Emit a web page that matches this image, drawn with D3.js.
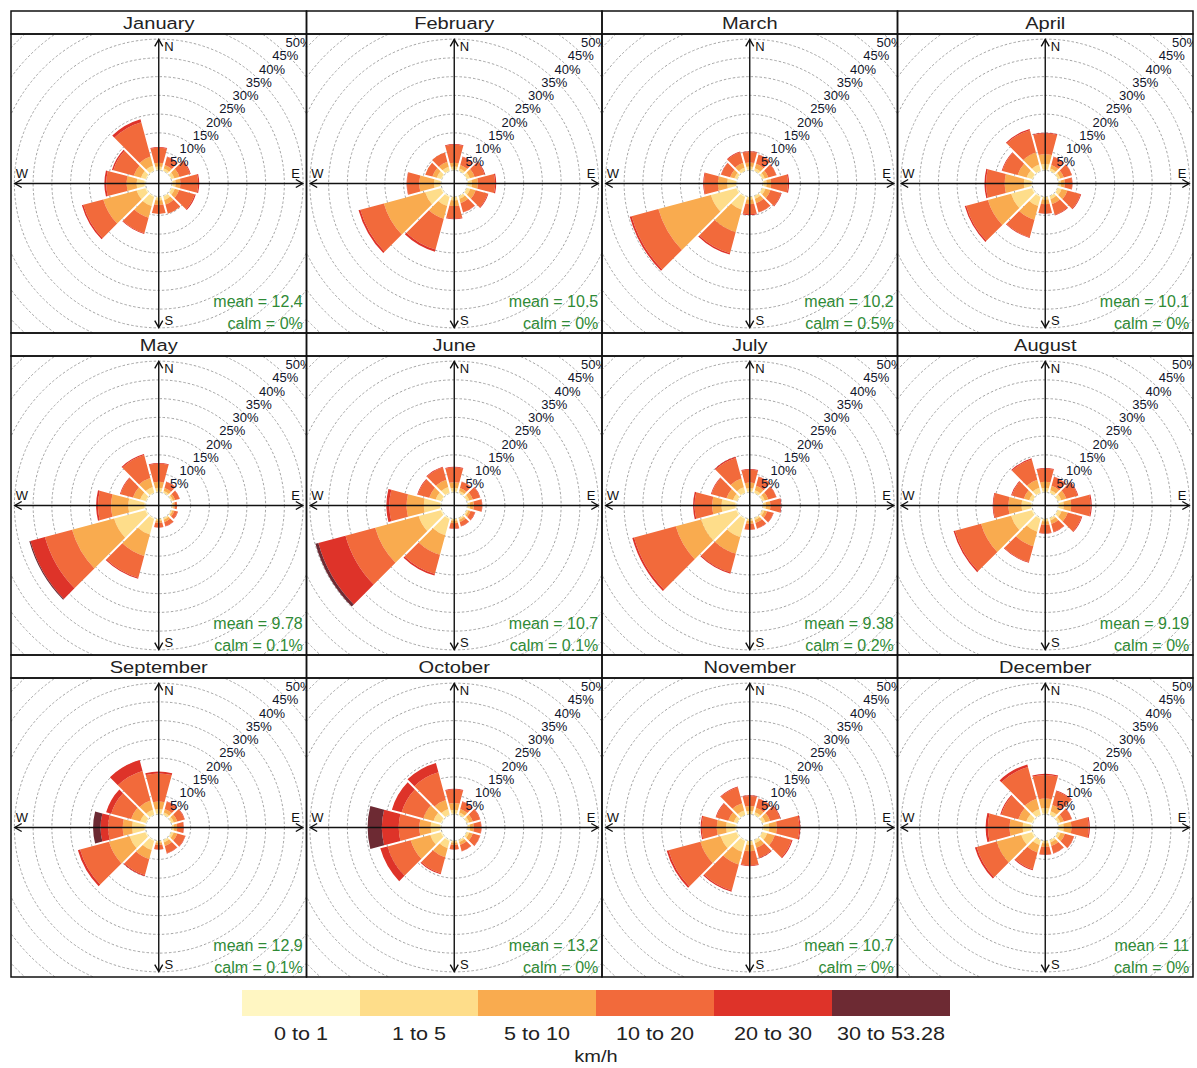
<!DOCTYPE html>
<html>
<head>
<meta charset="utf-8">
<script src="https://cdn.jsdelivr.net/npm/d3@7"></script>
<style>
  body { margin: 0; background: #fff; }
  svg { display: block; }
  text { font-family: "Liberation Sans", Arial, sans-serif; }
</style>
</head>
<body>
<svg id="chart" width="1197" height="1068"></svg>
<script>
// ---- data -------------------------------------------------------------
const monthNames = ["January", "February", "March", "April", "May", "June",
  "July", "August", "September", "October", "November", "December"];
// direction sectors (degrees from north, clockwise)
const directions = [0, 30, 60, 90, 120, 150, 180, 210, 240, 270, 300, 330];
const speedBins = ["0 to 1", "1 to 5", "5 to 10", "10 to 20", "20 to 30", "30 to 53.28"];
const binColours = ["#fff6c2", "#fedd8a", "#f9ab4f", "#f26a3b", "#de3329", "#6d2a33"];
const ringTicks = [0, 5, 10, 15, 20, 25, 30, 35, 40, 45, 50, 55, 60, 65, 70];
const ringLabels = [5, 10, 15, 20, 25, 30, 35, 40, 45, 50];
const meanSpeed = ["12.4", "10.5", "10.2", "10.1", "9.78", "10.7", "9.38", "9.19", "12.9", "13.2", "10.7", "11"];
const calmPercent = ["0%", "0%", "0.5%", "0%", "0.1%", "0.1%", "0.2%", "0%", "0.1%", "0%", "0%", "0%"];

// frequency (%) per direction sector, one column per speed bin
const january = [
  [0.2, 0.8, 1.0, 4.0, 0.2, 0], [0.1, 0.6, 1.0, 2.2, 0.1, 0], [0.1, 0.8, 1.4, 2.9, 0.2, 0],
  [0.2, 0.8, 1.3, 4.7, 0.3, 0], [0.2, 0.8, 1.2, 4.3, 0.3, 0], [0.2, 0.9, 1.3, 2.5, 0, 0],
  [0.2, 0.8, 1.2, 2.4, 0, 0], [0.3, 2.5, 3.2, 4.3, 0.2, 0], [0.3, 2.4, 9.2, 5.5, 0.4, 0],
  [0.3, 2.1, 2.7, 5.4, 0.5, 0], [0.2, 1.3, 2.0, 5.6, 0.4, 0], [0.2, 1.3, 2.5, 9.5, 0.8, 0]];
const february = [
  [0.2, 0.8, 1.0, 4.8, 0.2, 0], [0.1, 0.6, 1.0, 2.2, 0.1, 0], [0.1, 0.8, 1.3, 2.7, 0.2, 0],
  [0.2, 1.0, 1.6, 4.6, 0.3, 0], [0.1, 0.9, 1.5, 3.3, 0.2, 0], [0.1, 0.7, 1.2, 2.5, 0.1, 0],
  [0.1, 0.9, 1.5, 3.3, 0.2, 0], [0.3, 2.5, 3.5, 8.5, 0.6, 0], [0.3, 4.3, 11.4, 6.5, 0.5, 0],
  [0.2, 1.7, 3.9, 3.3, 0.1, 0], [0.2, 1.2, 1.2, 2.0, 0, 0], [0.2, 1.0, 1.4, 2.5, 0, 0]];
const march = [
  [0.2, 0.8, 1.1, 2.8, 0.2, 0], [0.1, 0.7, 1.2, 2.5, 0.1, 0], [0.1, 0.6, 1.0, 2.2, 0.1, 0],
  [0.2, 0.8, 1.2, 4.5, 0.3, 0], [0.1, 0.8, 1.4, 2.9, 0.2, 0], [0.1, 0.7, 1.2, 2.5, 0.1, 0],
  [0.1, 0.7, 1.2, 2.7, 0.2, 0], [0.3, 3.5, 6.2, 5.8, 0.4, 0], [0.3, 7.0, 14.5, 7.4, 0.5, 0],
  [0.2, 2.3, 2.5, 3.7, 0.2, 0], [0.1, 0.7, 1.2, 2.5, 0.1, 0], [0.1, 0.8, 1.4, 2.9, 0.2, 0]];
const april = [
  [0.2, 1.5, 2.6, 5.5, 0.2, 0], [0.1, 0.6, 1.0, 2.2, 0.1, 0], [0.1, 0.6, 1.0, 2.2, 0.1, 0],
  [0.1, 0.6, 1.0, 2.0, 0.1, 0], [0.1, 1.0, 1.6, 3.6, 0.2, 0], [0.1, 0.8, 1.4, 2.9, 0.2, 0],
  [0.1, 0.7, 1.2, 2.5, 0.1, 0], [0.3, 2.5, 3.8, 4.8, 0.2, 0], [0.3, 5.7, 6.4, 6.0, 0.4, 0],
  [0.2, 2.0, 5.1, 5.0, 0.4, 0], [0.2, 1.5, 2.5, 4.2, 0.2, 0], [0.2, 1.6, 3.3, 6.2, 0.3, 0]];
const may = [
  [0.2, 1.0, 1.6, 4.8, 0.2, 0], [0.1, 0.5, 0.8, 1.7, 0.1, 0], [0.1, 0.4, 0.6, 1.2, 0.1, 0],
  [0.1, 0.3, 0.4, 0.6, 0, 0], [0.1, 0.3, 0.5, 0.9, 0.1, 0], [0.1, 0.4, 0.6, 1.2, 0.1, 0],
  [0.1, 0.4, 0.6, 1.2, 0.1, 0], [0.3, 4.3, 5.9, 6.0, 0.3, 0], [0.3, 8.6, 11.6, 7.5, 4.0, 0.3],
  [0.3, 4.3, 4.6, 3.5, 0.5, 0], [0.2, 1.5, 2.0, 3.4, 0.2, 0], [0.2, 1.5, 2.5, 6.3, 0.3, 0]];
const june = [
  [0.2, 1.0, 1.5, 3.9, 0.2, 0], [0.1, 0.5, 0.8, 1.7, 0.1, 0], [0.1, 0.6, 1.0, 2.0, 0.1, 0],
  [0.1, 0.6, 1.0, 2.2, 0.1, 0], [0.1, 0.4, 0.6, 1.2, 0.1, 0], [0.1, 0.4, 0.6, 1.2, 0.1, 0],
  [0.1, 0.4, 0.7, 1.4, 0.1, 0], [0.3, 4.5, 5.4, 5.3, 0.4, 0], [0.3, 6.1, 12.0, 8.2, 7.5, 0.8],
  [0.3, 4.3, 4.6, 4.6, 0.8, 0], [0.2, 1.5, 1.8, 3.1, 0.2, 0], [0.2, 1.5, 2.0, 3.4, 0.2, 0]];
const july = [
  [0.2, 0.9, 1.5, 3.4, 0.2, 0], [0.1, 0.7, 1.2, 2.5, 0.1, 0], [0.1, 0.6, 1.0, 2.2, 0.1, 0],
  [0.1, 0.7, 1.2, 2.7, 0.2, 0], [0.1, 0.5, 0.8, 1.7, 0.1, 0], [0.1, 0.5, 0.8, 1.5, 0.1, 0],
  [0.1, 0.5, 0.8, 1.5, 0.1, 0], [0.3, 5.0, 4.6, 5.2, 0.3, 0], [0.3, 9.7, 7.0, 11.5, 0.5, 0],
  [0.3, 3.7, 2.5, 4.7, 0.4, 0], [0.1, 1.1, 1.8, 4.1, 0.2, 0], [0.2, 1.4, 2.4, 5.7, 0.3, 0]];
const august = [
  [0.2, 1.0, 1.6, 3.5, 0.2, 0], [0.1, 0.7, 1.2, 2.5, 0.1, 0], [0.1, 0.9, 1.4, 3.1, 0.2, 0],
  [0.2, 1.2, 2.0, 5.2, 0.3, 0], [0.1, 1.0, 1.7, 3.8, 0.2, 0], [0.1, 0.6, 1.0, 2.2, 0.1, 0],
  [0.1, 0.6, 1.0, 2.2, 0.1, 0], [0.3, 3.5, 4.0, 4.4, 0.2, 0], [0.3, 5.7, 8.3, 7.2, 0.4, 0],
  [0.3, 2.5, 3.5, 4.0, 0.2, 0], [0.1, 0.9, 1.5, 3.3, 0.2, 0], [0.2, 1.3, 2.2, 5.6, 0.3, 0]];
const september = [
  [0.2, 1.2, 2.0, 7.5, 0.5, 0], [0.1, 0.6, 1.0, 2.0, 0.1, 0], [0.1, 0.6, 1.0, 2.0, 0.1, 0],
  [0.1, 0.5, 0.8, 1.7, 0.1, 0], [0.1, 0.6, 1.0, 2.2, 0.1, 0], [0.1, 0.6, 1.0, 2.0, 0.1, 0],
  [0.1, 0.4, 0.6, 1.2, 0.1, 0], [0.3, 2.5, 2.5, 4.4, 0.3, 0], [0.3, 4.3, 5.7, 8.0, 0.6, 0],
  [0.3, 3.3, 2.5, 3.9, 2.0, 2.0], [0.2, 1.5, 2.5, 5.5, 1.4, 0], [0.2, 1.3, 2.5, 8.2, 3.0, 0]];
const october = [
  [0.2, 1.0, 1.8, 3.6, 0.2, 0], [0.1, 0.6, 1.0, 2.0, 0.1, 0], [0.1, 0.6, 1.0, 2.0, 0.1, 0],
  [0.1, 0.6, 1.0, 2.0, 0.1, 0], [0.1, 0.6, 1.0, 2.0, 0.1, 0], [0.1, 0.5, 0.8, 1.7, 0.1, 0],
  [0.1, 0.4, 0.6, 1.2, 0.1, 0], [0.3, 2.0, 2.5, 4.4, 0.3, 0], [0.3, 2.9, 5.4, 6.4, 2.0, 0],
  [0.3, 2.5, 3.0, 5.5, 4.5, 3.8], [0.3, 2.0, 2.8, 6.0, 2.7, 0], [0.2, 1.5, 2.5, 7.6, 2.6, 0]];
const november = [
  [0.1, 0.8, 1.3, 2.7, 0.2, 0], [0.1, 0.7, 1.2, 2.5, 0.1, 0], [0.1, 0.8, 1.3, 2.7, 0.2, 0],
  [0.2, 1.5, 2.0, 6.0, 0.3, 0], [0.1, 1.3, 2.1, 4.6, 0.3, 0], [0.1, 0.8, 1.3, 2.7, 0.2, 0],
  [0.1, 1.0, 1.7, 3.8, 0.2, 0], [0.3, 3.0, 3.5, 7.2, 0.3, 0], [0.3, 4.3, 5.6, 8.8, 0.5, 0],
  [0.3, 2.5, 2.5, 4.0, 0.3, 0], [0.1, 0.9, 1.5, 3.3, 0.2, 0], [0.1, 1.2, 2.0, 4.4, 0.2, 0]];
const december = [
  [0.2, 1.5, 2.5, 6.3, 0.3, 0], [0.1, 1.0, 1.7, 3.8, 0.2, 0], [0.1, 0.6, 1.0, 2.2, 0.1, 0],
  [0.1, 1.3, 2.1, 4.6, 0.3, 0], [0.1, 0.7, 1.2, 2.5, 0.1, 0], [0.1, 0.6, 1.0, 2.0, 0.1, 0],
  [0.1, 0.6, 1.0, 2.0, 0.1, 0], [0.1, 1.3, 2.1, 4.6, 0.3, 0], [0.3, 2.9, 6.8, 5.5, 0.5, 0],
  [0.3, 2.2, 3.5, 5.8, 0.6, 0], [0.3, 1.5, 2.2, 4.7, 0.3, 0], [0.2, 1.5, 2.8, 8.8, 0.7, 0]];

const monthlyFrequencies = [january, february, march, april, may, june,
  july, august, september, october, november, december];

// ---- layout -----------------------------------------------------------
const svg = d3.select("#chart");
const gridLeft = 11, gridTop = 11;
const panelW = 295.5, stripH = 23, plotH = 299;
const offsetPct = 3.5;     // hollow centre, in % units
const maxFreq = 34.9;      // largest sector total, sets the axis reach
const upper = 144;         // pixel reach of the axis arrows

const r = d3.scaleLinear().domain([-offsetPct, maxFreq]).range([0, upper]);
const toRad = d3.scaleLinear().domain([0, 360]).range([0, 2 * Math.PI]);
const colour = d3.scaleOrdinal().domain(speedBins).range(binColours);

const arc = d3.arc()
  .innerRadius(d => r(d.lo))
  .outerRadius(d => r(d.hi))
  .startAngle(d => toRad(d.dir - 15))
  .endAngle(d => toRad(d.dir + 15))
  .padAngle(0.02)
  .padRadius(100);

const defs = svg.append("defs");

function arrowHead(x, y, dx, dy) {
  // open arrow head pointing along (dx, dy)
  const len = 8, a = Math.PI / 6;
  const ang = Math.atan2(dy, dx);
  const p1 = [x - len * Math.cos(ang - a), y - len * Math.sin(ang - a)];
  const p2 = [x - len * Math.cos(ang + a), y - len * Math.sin(ang + a)];
  return `M${p1[0]},${p1[1]}L${x},${y}L${p2[0]},${p2[1]}`;
}

monthNames.forEach((name, i) => {
  const col = i % 4, row = Math.floor(i / 4);
  const x0 = gridLeft + col * panelW;
  const y0 = gridTop + row * (stripH + plotH);
  const g = svg.append("g").attr("transform", `translate(${x0},${y0})`);

  const clipId = `panel-clip-${i}`;
  defs.append("clipPath").attr("id", clipId)
    .append("rect").attr("x", 0).attr("y", stripH).attr("width", panelW).attr("height", plotH);

  const plot = g.append("g").attr("clip-path", `url(#${clipId})`);
  const c = plot.append("g").attr("transform", `translate(${panelW / 2},${stripH + plotH / 2})`);

  // grid rings
  c.selectAll("circle.ring").data(ringTicks).join("circle")
    .attr("class", "ring")
    .attr("r", d => r(d))
    .attr("fill", "none")
    .attr("stroke", "#9a9a9a")
    .attr("stroke-width", 0.9)
    .attr("stroke-dasharray", "2.5,2");

  // stacked sector bars
  const segs = [];
  monthlyFrequencies[i].forEach((vals, di) => {
    let cum = 0;
    vals.forEach((v, bi) => {
      if (v > 0) segs.push({ dir: directions[di], bin: speedBins[bi], lo: cum, hi: cum + v });
      cum += v;
    });
  });
  c.selectAll("path.bar").data(segs).join("path")
    .attr("class", "bar")
    .attr("d", arc)
    .attr("fill", d => colour(d.bin));

  // compass axes
  const axes = c.append("g").attr("stroke", "#111").attr("stroke-width", 1.4).attr("fill", "none");
  axes.append("line").attr("x1", -upper).attr("x2", upper).attr("y1", 0).attr("y2", 0);
  axes.append("line").attr("y1", -upper).attr("y2", upper).attr("x1", 0).attr("x2", 0);
  axes.append("path").attr("d", arrowHead(upper, 0, 1, 0));
  axes.append("path").attr("d", arrowHead(-upper, 0, -1, 0));
  axes.append("path").attr("d", arrowHead(0, -upper, 0, -1));
  axes.append("path").attr("d", arrowHead(0, upper, 0, 1));

  const compass = [
    { t: "N", x: 0.07 * upper, y: -0.95 * upper },
    { t: "E", x: 0.95 * upper, y: -0.07 * upper },
    { t: "S", x: 0.07 * upper, y: 0.95 * upper },
    { t: "W", x: -0.95 * upper, y: -0.07 * upper }];
  c.selectAll("text.dir").data(compass).join("text")
    .attr("class", "dir")
    .attr("x", d => d.x).attr("y", d => d.y)
    .attr("text-anchor", "middle").attr("dominant-baseline", "central")
    .attr("font-size", 13).attr("fill", "#111")
    .text(d => d.t);

  // ring labels along the 45 degree diagonal
  c.selectAll("text.pct").data(ringLabels).join("text")
    .attr("class", "pct")
    .attr("x", d => r(d) * Math.SQRT1_2 - 2)
    .attr("y", d => -r(d) * Math.SQRT1_2 + 1)
    .attr("text-anchor", "middle").attr("dominant-baseline", "central")
    .attr("font-size", 13).attr("fill", "#10152a")
    .text(d => `${d}%`);

  // mean / calm annotation
  const ann = g.append("g").attr("transform", `translate(${panelW / 2 + upper},${stripH + plotH / 2 + upper})`)
    .attr("fill", "#2f8a36").attr("font-size", 16).attr("text-anchor", "end");
  ann.append("text").attr("y", -21).text(`mean = ${meanSpeed[i]}`);
  ann.append("text").attr("y", 1).text(`calm = ${calmPercent[i]}`);

  // frames
  g.append("rect").attr("width", panelW).attr("height", stripH)
    .attr("fill", "none").attr("stroke", "#111").attr("stroke-width", 1.5);
  g.append("rect").attr("y", stripH).attr("width", panelW).attr("height", plotH)
    .attr("fill", "none").attr("stroke", "#111").attr("stroke-width", 1.5);
  g.append("text")
    .attr("transform", `translate(${panelW / 2},${stripH - 5}) scale(1.18,1)`)
    .attr("text-anchor", "middle").attr("font-size", 17).attr("fill", "#222")
    .text(name);
});

// ---- legend -----------------------------------------------------------
const legendX = d3.scaleBand().domain(speedBins).range([242, 950]);
const legend = svg.append("g");
legend.selectAll("rect").data(speedBins).join("rect")
  .attr("x", d => legendX(d)).attr("y", 990)
  .attr("width", legendX.bandwidth()).attr("height", 26)
  .attr("fill", d => colour(d));
legend.selectAll("text.bin").data(speedBins).join("text")
  .attr("class", "bin")
  .attr("transform", d => `translate(${legendX(d) + legendX.bandwidth() / 2},1040) scale(1.2,1)`)
  .attr("text-anchor", "middle").attr("font-size", 18).attr("fill", "#222")
  .text(d => d);
legend.append("text")
  .attr("transform", "translate(596,1062) scale(1.25,1)")
  .attr("text-anchor", "middle").attr("font-size", 16).attr("fill", "#222")
  .text("km/h");
</script>
</body>
</html>
